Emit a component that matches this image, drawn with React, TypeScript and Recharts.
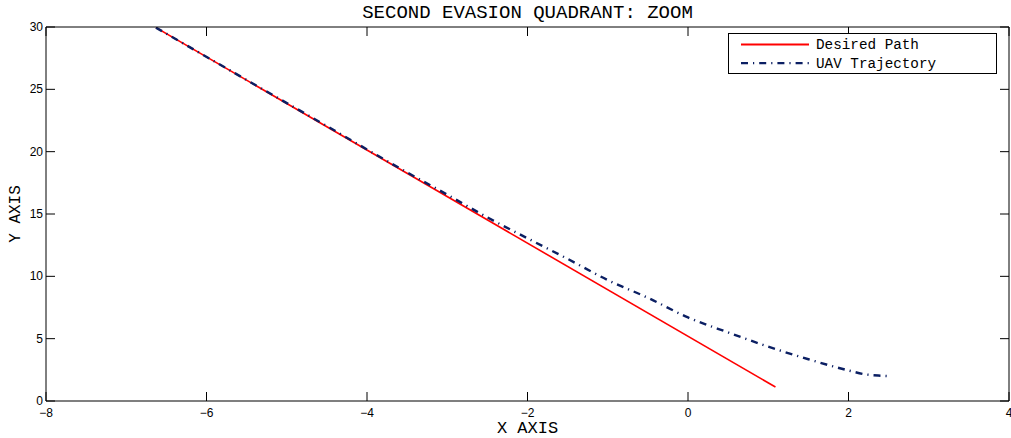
import React from 'react';
import { LineChart, Line, XAxis, YAxis, Legend, Label } from 'recharts';

// desired path (straight) and the flown trajectory
const desiredX = [-6.63, 1.09];
const desiredY = [29.95, 1.12];

const uavX = [-6.63, -5.5, -4.5, -3.6, -3.0, -2.5, -2.0, -1.5, -1.0, -0.5, 0, 0.5, 1.0, 1.5, 2.0, 2.2, 2.4, 2.48];
const uavY = [29.95, 25.75, 22.05, 18.7, 16.55, 14.73, 13.05, 11.4, 9.7, 8.28, 6.7, 5.5, 4.36, 3.35, 2.45, 2.15, 2.03, 2.0];

const xTicks = [-8, -6, -4, -2, 0, 2, 4];
const yTicks = [0, 5, 10, 15, 20, 25, 30];

const desiredData = desiredX.map((x, i) => ({ x, y: desiredY[i] }));
const uavData = uavX.map((x, i) => ({ x, y: uavY[i] }));

const RED = '#ff0000';
const NAVY = '#0b1f63';
const DASHDOT = '7 5 1.2 5';
const MONO = '"Liberation Mono", "DejaVu Sans Mono", monospace';
const SANS = '"Liberation Sans", Arial, sans-serif';
const TICK_LEN = 9;

const fmt = (v: number) => (v < 0 ? '\u2212' + Math.abs(v) : String(v));

function BottomTick(props: any) {
  const { x, y, payload } = props;
  return (
    <g>
      <line x1={x} y1={y} x2={x} y2={y - TICK_LEN} stroke="#000" />
      <text x={x} y={y + 16} textAnchor="middle" fontFamily={SANS} fontSize={12} fill="#000">
        {fmt(payload.value)}
      </text>
    </g>
  );
}

function LeftTick(props: any) {
  const { x, y, payload } = props;
  return (
    <g>
      <line x1={x} y1={y} x2={x + TICK_LEN} y2={y} stroke="#000" />
      <text x={x - 3} y={y + 4} textAnchor="end" fontFamily={SANS} fontSize={12} fill="#000">
        {fmt(payload.value)}
      </text>
    </g>
  );
}

function TopTick(props: any) {
  const { x, y } = props;
  return <line x1={x} y1={y} x2={x} y2={y + TICK_LEN} stroke="#000" />;
}

function RightTick(props: any) {
  const { x, y } = props;
  return <line x1={x} y1={y} x2={x - TICK_LEN} y2={y} stroke="#000" />;
}

function YLabel(props: any) {
  const { viewBox } = props;
  const cx = viewBox.x + 16;
  const cy = viewBox.y + viewBox.height / 2;
  return (
    <text
      x={cx}
      y={cy}
      transform={`rotate(-90 ${cx} ${cy})`}
      textAnchor="middle"
      dominantBaseline="central"
      fontFamily={MONO}
      fontSize={16}
      fill="#000"
    >
      Y AXIS
    </text>
  );
}

function LegendBox(props: any) {
  const items = props.payload || [];
  return (
    <div style={{ width: 269, height: 41, border: '1px solid #000', background: '#fff', boxSizing: 'border-box' }}>
      <svg width={267} height={39}>
        {items.map((it: any, i: number) => (
          <g key={it.value}>
            <line
              x1={12}
              x2={80}
              y1={10.5 + i * 18.6}
              y2={10.5 + i * 18.6}
              stroke={it.color}
              strokeWidth={i === 1 ? 2.4 : 1.8}
              strokeDasharray={i === 1 ? DASHDOT : undefined}
            />
            <text x={87} y={15 + i * 18.6} fontFamily={MONO} fontSize={14.3} fill="#000">
              {it.value}
            </text>
          </g>
        ))}
      </svg>
    </div>
  );
}

export default function App() {
  return (
    <div style={{ position: 'absolute', left: 0, top: 0, width: 1011, height: 438, background: '#fff' }}>
      <LineChart width={1011} height={438} margin={{ top: 26, right: 1, bottom: 0, left: 0 }}>
        <text x={527.5} y={18} textAnchor="middle" fontFamily={MONO} fontSize={19} fill="#000">
          SECOND EVASION QUADRANT: ZOOM
        </text>
        <XAxis
          dataKey="x"
          type="number"
          domain={[-8, 4]}
          ticks={xTicks}
          height={37}
          tickSize={0}
          tickMargin={0}
          tickLine={false}
          tick={<BottomTick />}
          axisLine={{ stroke: '#000', strokeWidth: 1.2 }}
          allowDataOverflow
          interval={0}
        >
          <Label
            value="X AXIS"
            position="insideBottom"
            offset={5}
            style={{ fontFamily: MONO, fontSize: 17, fill: '#000' }}
          />
        </XAxis>
        <XAxis
          xAxisId="top"
          orientation="top"
          dataKey="x"
          type="number"
          domain={[-8, 4]}
          ticks={xTicks}
          height={1}
          tickSize={0}
          tickMargin={0}
          tickLine={false}
          tick={<TopTick />}
          axisLine={{ stroke: '#000' }}
          allowDataOverflow
          interval={0}
        />
        <YAxis
          type="number"
          domain={[0, 30]}
          ticks={yTicks}
          width={46}
          tickSize={0}
          tickMargin={0}
          tickLine={false}
          tick={<LeftTick />}
          axisLine={{ stroke: '#000' }}
          allowDataOverflow
          interval={0}
        >
          <Label content={<YLabel />} />
        </YAxis>
        <YAxis
          yAxisId="right"
          orientation="right"
          type="number"
          domain={[0, 30]}
          ticks={yTicks}
          width={1}
          tickSize={0}
          tickMargin={0}
          tickLine={false}
          tick={<RightTick />}
          axisLine={{ stroke: '#000' }}
          allowDataOverflow
          interval={0}
        />
        <Legend
          layout="vertical"
          align="center"
          verticalAlign="middle"
          content={<LegendBox />}
          wrapperStyle={{ left: 728, top: 33, width: 269, height: 41 }}
        />
        <Line
          data={desiredData}
          dataKey="y"
          name="Desired Path"
          type="linear"
          stroke={RED}
          strokeWidth={1.6}
          dot={false}
          isAnimationActive={false}
        />
        <Line
          data={uavData}
          dataKey="y"
          name="UAV Trajectory"
          type="monotone"
          stroke={NAVY}
          strokeWidth={2.4}
          strokeDasharray={DASHDOT}
          dot={false}
          isAnimationActive={false}
        />
      </LineChart>
    </div>
  );
}
